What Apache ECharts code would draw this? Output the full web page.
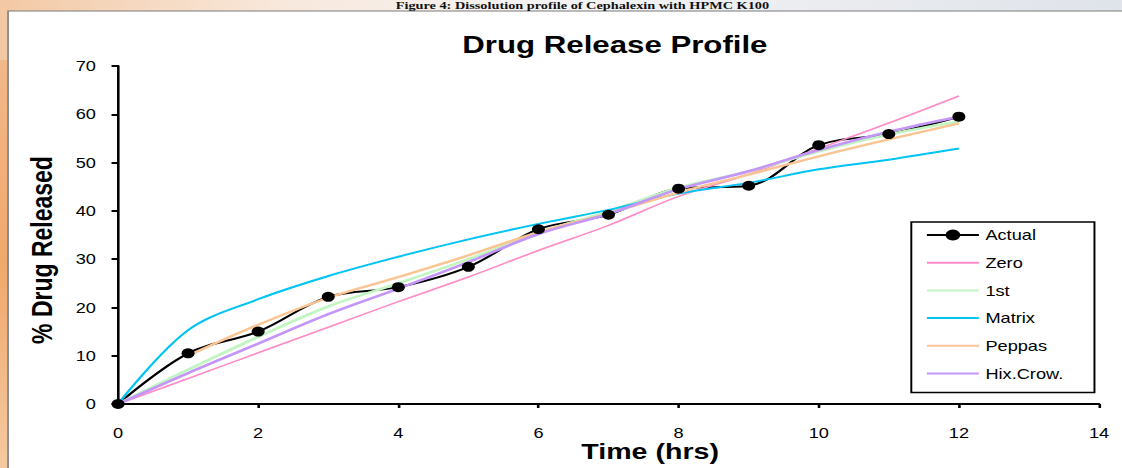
<!DOCTYPE html>
<html>
<head>
<meta charset="utf-8">
<script src="https://cdn.jsdelivr.net/npm/echarts@6/dist/echarts.min.js"></script>
<style>
html,body{margin:0;padding:0;background:#fff;overflow:hidden;}
#c{width:863px;height:468px;transform:scaleX(1.3);transform-origin:0 0;}
</style>
</head>
<body>
<div id="c"></div>
<script>
// Data
const hours      = [0, 1, 2, 3, 4, 5, 6, 7, 8, 9, 10, 11, 12];
const actual     = [0, 10.5, 15.0, 22.2, 24.2, 28.4, 36.2, 39.2, 44.6, 45.2, 53.6, 55.9, 59.5];
const zeroOrder  = [0, 5.3, 10.6, 15.9, 21.2, 26.3, 31.8, 37.0, 43.0, 47.6, 52.9, 58.2, 63.8];
const firstOrder = [0, 7.1, 13.9, 20.2, 25.0, 30.0, 35.5, 39.9, 44.8, 48.2, 52.3, 55.8, 58.5];
const matrix     = [0, 15.3, 21.7, 26.5, 30.5, 34.1, 37.3, 40.2, 43.6, 45.8, 48.6, 50.6, 52.9];
const peppas     = [null, 10.0, 16.4, 22.0, 26.3, 30.8, 35.6, 39.5, 43.8, 47.5, 51.3, 54.8, 58.1];
const hixCrow    = [0, 6.4, 12.5, 18.6, 23.9, 29.4, 35.2, 39.4, 44.5, 48.2, 52.6, 56.4, 59.5];
const seriesNames = ['Actual', 'Zero', '1st', 'Matrix', 'Peppas', 'Hix.Crow.'];
const xTickRange = {min: 0, max: 14, interval: 2};
const yTickRange = {min: 0, max: 70, interval: 10};

const pairs = arr => hours.map((h, i) => [h, arr[i]]);
const F = 'Arial, "Liberation Sans", sans-serif';

const legendData = seriesNames.map(n => n === 'Actual'
  ? {name: n}
  : {name: n, itemStyle: {opacity: 0}});

const chart = echarts.init(document.getElementById('c'), null, {renderer: 'svg'});
chart.setOption({
  backgroundColor: '#ffffff',
  animation: false,
  graphic: [
    {type: 'rect', shape: {x: 0, y: 0, width: 863, height: 468}, z: -10, silent: true,
     style: {fill: new echarts.graphic.LinearGradient(0, 0, 1, 0, [
       {offset: 0, color: '#f3c9a4'}, {offset: 0.25, color: '#f8e8dc'},
       {offset: 0.5, color: '#f4f4f4'}, {offset: 1, color: '#dfe3ea'}])}},
    {type: 'rect', shape: {x: 0, y: 60, width: 6.2, height: 408}, z: -9, silent: true,
     style: {fill: new echarts.graphic.LinearGradient(0, 0, 0, 1, [
       {offset: 0, color: '#f2b88a'}, {offset: 0.5, color: '#f0a86c'}, {offset: 1, color: '#f5c9a0'}])}},
    {type: 'rect', shape: {x: 6.2, y: 11, width: 860, height: 460}, z: -8, silent: true,
     style: {fill: '#ffffff', stroke: '#7a7a7a', lineWidth: 1.2}},
    {type: 'text', x: 448, y: 0.5, z: -7, silent: true,
     style: {text: 'Figure 4: Dissolution profile of Cephalexin with HPMC K100',
       font: 'bold 11px "Liberation Serif", "Times New Roman", serif', fill: '#111',
       textAlign: 'center', textVerticalAlign: 'top'}}
  ],
  title: {
    text: 'Drug Release Profile', left: 468, top: 28, textAlign: 'center',
    textStyle: {fontFamily: F, fontSize: 24, fontWeight: 'bold', color: '#000'}
  },
  legend: {
    data: legendData, orient: 'vertical', left: 701, top: 222,
    padding: [6, 24, 12, 11], itemWidth: 40, itemHeight: 14, itemGap: 13.7,
    borderColor: '#000', borderWidth: 1.5, backgroundColor: '#fff',
    textStyle: {fontFamily: F, fontSize: 14, color: '#000'}
  },
  grid: {left: 90.8, right: 17.6, top: 66, bottom: 64, containLabel: false, outerBoundsMode: 'none'},
  xAxis: {
    type: 'value', min: xTickRange.min, max: xTickRange.max, interval: xTickRange.interval,
    name: 'Time (hrs)', nameLocation: 'middle', nameGap: 36, nameMoveOverlap: false,
    nameTextStyle: {fontFamily: F, fontSize: 22, fontWeight: 'bold', color: '#000', padding: [0, 0, 0, 64]},
    axisLine: {lineStyle: {color: '#000', width: 2}},
    axisTick: {show: true, length: 4, lineStyle: {color: '#000', width: 2}},
    axisLabel: {fontFamily: F, fontSize: 14, color: '#000', margin: 22},
    splitLine: {show: false}
  },
  yAxis: {
    type: 'value', min: yTickRange.min, max: yTickRange.max, interval: yTickRange.interval,
    name: '% Drug Released', nameLocation: 'middle', nameRotate: 90, nameGap: 47, nameMoveOverlap: false,
    nameTextStyle: {fontFamily: F, fontSize: 23, fontWeight: 'bold', color: '#000', padding: [0, 0, 0, -30]},
    axisLine: {show: true, lineStyle: {color: '#000', width: 2}},
    axisTick: {show: true, length: 5, lineStyle: {color: '#000', width: 2}},
    axisLabel: {fontFamily: F, fontSize: 14, color: '#000', margin: 17},
    splitLine: {show: false}
  },
  series: [
    {name: 'Actual', type: 'line', data: pairs(actual), smooth: 0.35,
     symbol: 'circle', symbolSize: 10, showSymbol: true,
     itemStyle: {color: '#000'}, lineStyle: {color: '#000', width: 2}},
    {name: 'Zero', type: 'line', data: pairs(zeroOrder), smooth: 0.35, symbol: 'none',
     itemStyle: {color: '#ff8cc6'}, lineStyle: {color: '#ff8cc6', width: 1.6}},
    {name: '1st', type: 'line', data: pairs(firstOrder), smooth: 0.35, symbol: 'none',
     itemStyle: {color: '#c2f5c2'}, lineStyle: {color: '#c2f5c2', width: 2.6}},
    {name: 'Matrix', type: 'line', data: pairs(matrix), smooth: 0.35, symbol: 'none',
     itemStyle: {color: '#00c4f5'}, lineStyle: {color: '#00c4f5', width: 2}},
    {name: 'Peppas', type: 'line', data: pairs(peppas), smooth: 0.35, symbol: 'none',
     itemStyle: {color: '#fbc493'}, lineStyle: {color: '#fbc493', width: 2.4}},
    {name: 'Hix.Crow.', type: 'line', data: pairs(hixCrow), smooth: 0.35, symbol: 'none',
     itemStyle: {color: '#c496f8'}, lineStyle: {color: '#c496f8', width: 2.6}}
  ]
});
</script>
</body>
</html>
